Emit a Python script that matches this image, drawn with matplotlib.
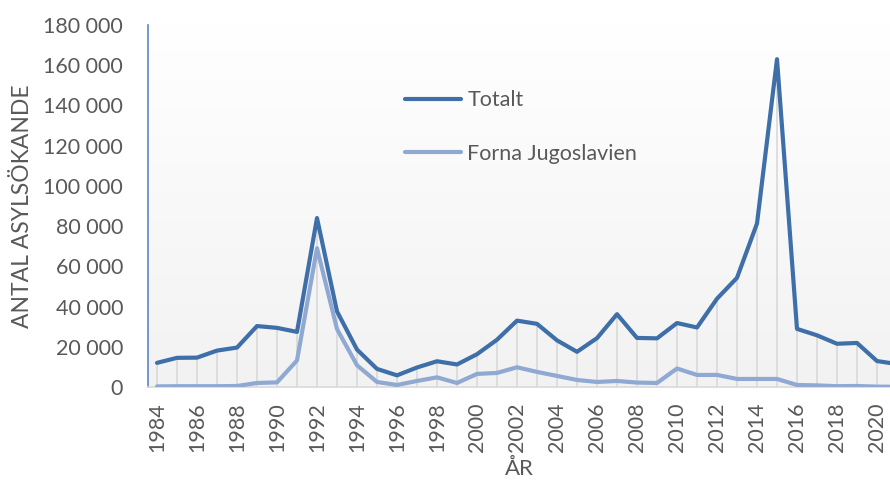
import numpy as np
import matplotlib.pyplot as plt
from matplotlib.colors import LinearSegmentedColormap

plt.rcParams['font.family'] = ['Lato', 'DejaVu Sans']

#----------------------------------------------------------------
# Data
years = list(range(1984, 2022))
totalt = [12000, 14500, 14600, 18100, 19600, 30300, 29400, 27400, 84000, 37600,
          18600, 9000, 5800, 9700, 12800, 11200, 16300, 23500, 33000, 31400,
          23200, 17500, 24300, 36200, 24400, 24200, 31800, 29600, 43900, 54300,
          81300, 163000, 28900, 25700, 21500, 21900, 12900, 11400]
jugoslavien = [300, 400, 400, 400, 500, 2000, 2300, 13200, 69000, 28800,
               10800, 2500, 1000, 3000, 4800, 2000, 6500, 7000, 9800, 7500,
               5500, 3500, 2500, 3000, 2200, 2000, 9200, 6000, 6000, 4000,
               4000, 4000, 1000, 800, 400, 500, 200, 100]
tick_years = list(range(1984, 2021, 2))
y_ticks = list(range(0, 180001, 20000))
#----------------------------------------------------------------

txt = '#595959'
fs = 15.5
fig = plt.figure(figsize=(8.9, 4.83), dpi=100)
ax = fig.add_axes([148/890, 1 - 387/483, 1 - 148/890, (387 - 25)/483])

# gradient background white -> light grey
cmap = LinearSegmentedColormap.from_list('bg', ['#f2f2f2', '#ffffff'])
grad = np.linspace(0, 1, 256).reshape(-1, 1)
ax.imshow(grad, cmap=cmap, aspect='auto', extent=[0, 1, 0, 1],
          transform=ax.transAxes, origin='lower', zorder=0)

ax.vlines(years, 0, totalt, color='#d9d9d9', lw=1.2, zorder=1)
ax.plot(years, jugoslavien, color='#8fa9d3', lw=3, solid_capstyle='round',
        label='Forna Jugoslavien', zorder=3)
ax.plot(years, totalt, color='#3f6fa8', lw=3, solid_capstyle='round',
        label='Totalt', zorder=4)

ax.set_xlim(1983.55, 2020.65)
ax.set_ylim(0, 180000)
ax.set_xticks(tick_years)
ax.set_xticklabels([str(y) for y in tick_years], rotation=90)
ax.set_yticks(y_ticks)
ax.set_yticklabels([f'{v:,}'.replace(',', ' ') for v in y_ticks])
ax.tick_params(length=0, labelsize=fs, colors=txt)
ax.tick_params(axis='y', pad=18)
ax.tick_params(axis='x', pad=11)

for s in ['top', 'right']:
    ax.spines[s].set_visible(False)
ax.spines['left'].set_color('#5b87c5')
ax.spines['left'].set_linewidth(1.2)
ax.spines['bottom'].set_color('#d9d9d9')
ax.spines['bottom'].set_linewidth(1.2)

ax.set_ylabel('ANTAL ASYLSÖKANDE', fontsize=16.5, color=txt, labelpad=7)
ax.set_xlabel('ÅR', fontsize=16, color=txt, labelpad=5)

handles, labels = ax.get_legend_handles_labels()
leg = ax.legend(handles[::-1], labels[::-1], loc='upper left',
                bbox_to_anchor=(0.32, 0.873), frameon=False, fontsize=fs,
                handlelength=2.6, labelspacing=1.55, handletextpad=0.3)
for t in leg.get_texts():
    t.set_color(txt)

fig.savefig('out.png', dpi=100)
